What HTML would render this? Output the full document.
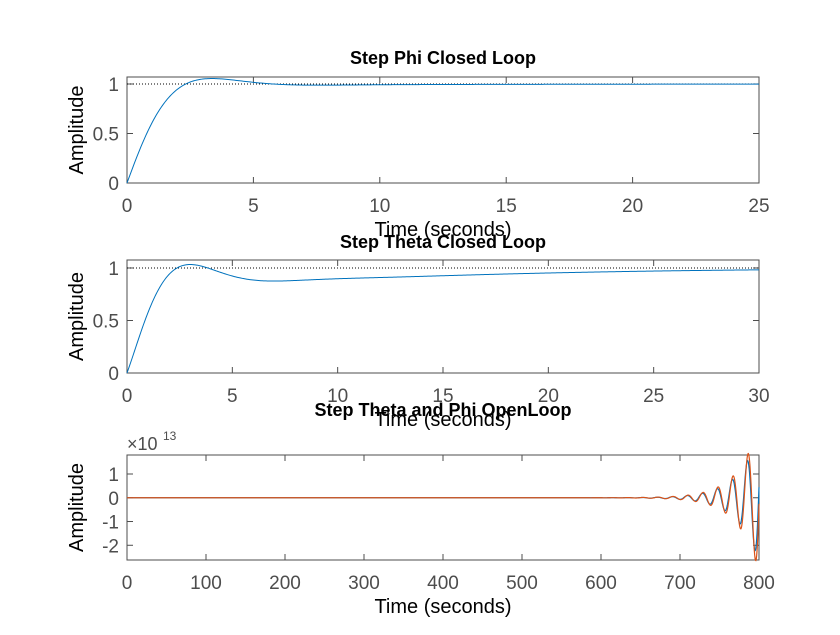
<!DOCTYPE html>
<html><head><meta charset="utf-8"><style>
html,body{margin:0;padding:0;background:#fff;}
svg text{font-family:"Liberation Sans",sans-serif;}
</style></head><body>
<svg id="s" width="840" height="630" xmlns="http://www.w3.org/2000/svg">
<rect width="840" height="630" fill="#fff"/>
<g id="g"></g>
</svg>
<script>
const g=document.getElementById('g');
let h='';
function ax(L,T,R,B,xmax,xt,ymin,ymax,yt,ylab,title,titleY){
  const X=v=>L+(v/xmax)*(R-L), Y=v=>B-(v-ymin)/(ymax-ymin)*(B-T);
  h+=`<rect x="${L}" y="${T}" width="${R-L}" height="${B-T}" fill="#fff" stroke="#4d4d4d" stroke-width="1"/>`;
  xt.forEach(v=>{const x=X(v);h+=`<line x1="${x}" y1="${B}" x2="${x}" y2="${B-6}" stroke="#4d4d4d"/><line x1="${x}" y1="${T}" x2="${x}" y2="${T+6}" stroke="#4d4d4d"/><text x="${x}" y="${B+29}" font-size="19" fill="#4d4d4d" text-anchor="middle">${v}</text>`;});
  yt.forEach(v=>{const y=Y(v);h+=`<line x1="${L}" y1="${y}" x2="${L+6}" y2="${y}" stroke="#4d4d4d"/><line x1="${R}" y1="${y}" x2="${R-6}" y2="${y}" stroke="#4d4d4d"/><text x="${L-8}" y="${y+7}" font-size="19" fill="#4d4d4d" text-anchor="end">${v}</text>`;});
  h+=`<text x="${(L+R)/2}" y="${B+53}" font-size="20" fill="#000" text-anchor="middle">Time (seconds)</text>`;
  h+=`<text transform="translate(${L-44},${(T+B)/2}) rotate(-90)" font-size="20" fill="#000" text-anchor="middle">${ylab}</text>`;
  h+=`<text x="${(L+R)/2}" y="${titleY}" font-size="18" font-weight="bold" fill="#000" text-anchor="middle">${title}</text>`;
  return [X,Y];
}
function path(X,Y,f,t0,t1,n,col,w){
  let d='';for(let i=0;i<=n;i++){const t=t0+(t1-t0)*i/n;d+=(i?'L':'M')+X(t).toFixed(2)+','+Y(f(t)).toFixed(2);}
  h+=`<path d="${d}" fill="none" stroke="${col}" stroke-width="${w}"/>`;
}
// plot 1
let [X,Y]=ax(127,77,759,183,25,[0,5,10,15,20,25],0,1.0707,[0,0.5,1],'Amplitude','Step Phi Closed Loop',64);
h+=`<line x1="127" y1="${Y(1)}" x2="759" y2="${Y(1)}" stroke="#000" stroke-dasharray="1,2"/>`;
path(X,Y,t=>1-Math.exp(-0.7*t)*Math.cos(0.7*t)-0.025*(Math.exp(-t/8)-Math.exp(-t/2)),0,25,500,'#0072BD',1);
// plot 2
[X,Y]=ax(127,260,759,373,30,[0,5,10,15,20,25,30],0,1.076,[0,0.5,1],'Amplitude','Step Theta Closed Loop',248);
h+=`<line x1="127" y1="${Y(1)}" x2="759" y2="${Y(1)}" stroke="#000" stroke-dasharray="1,2"/>`;
path(X,Y,t=>1-Math.exp(-0.6*t)*Math.cos(0.8*t)-0.53*(Math.exp(-t/9)-Math.exp(-t/5)),0,30,500,'#0072BD',1);
// plot 3
[X,Y]=ax(127,455,759,560,800,[0,100,200,300,400,500,600,700,800],-2.62,1.8,[-2,-1,0,1],'Amplitude','Step Theta and Phi OpenLoop',416);
h+=`<text x="127" y="450" font-size="18" fill="#4d4d4d">×10</text><text x="163" y="440" font-size="12" fill="#4d4d4d">13</text>`;
const w=2*Math.PI/19;
path(X,Y,t=>1.6*Math.exp((t-786)/27)*Math.cos(w*(t-786)+0.25),0,800,1600,'#0072BD',1.2);
path(X,Y,t=>1.85*Math.exp((t-786)/27)*Math.cos(w*(t-786)),0,800,1600,'#D95319',1.2);
g.innerHTML=h;
</script>
</body></html>
